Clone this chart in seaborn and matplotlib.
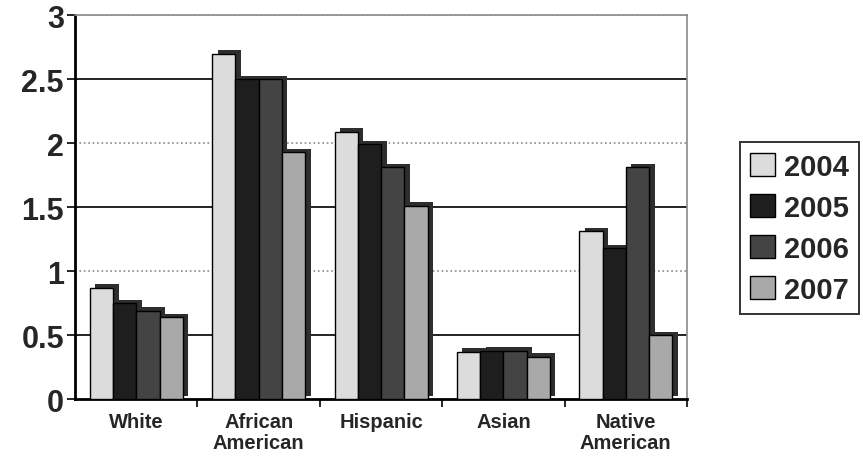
import matplotlib
matplotlib.use("Agg")
import matplotlib.pyplot as plt
import matplotlib.patheffects as pe
from matplotlib.ticker import FixedLocator
import pandas as pd
import seaborn as sns

# data
groups = ["White", "African\nAmerican", "Hispanic", "Asian", "Native\nAmerican"]
years = ["2004", "2005", "2006", "2007"]
v2004 = [0.87, 2.70, 2.09, 0.37, 1.31]
v2005 = [0.75, 2.50, 1.99, 0.38, 1.18]
v2006 = [0.69, 2.50, 1.81, 0.38, 1.81]
v2007 = [0.64, 1.93, 1.51, 0.33, 0.50]
y_ticks = [0, 0.5, 1, 1.5, 2, 2.5, 3]
y_tick_labels = ["0", "0.5", "1", "1.5", "2", "2.5", "3"]

bar_colors = ["#dcdcdc", "#1e1e1e", "#444444", "#a9a9a9"]

rows = []
for year, vals in zip(years, [v2004, v2005, v2006, v2007]):
    for g, v in zip(groups, vals):
        rows.append({"group": g, "year": year, "value": v})
df = pd.DataFrame(rows)

sns.set_style("white")
plt.rcParams["font.family"] = ["Liberation Sans", "DejaVu Sans"]

fig = plt.figure(figsize=(8.63, 4.60), dpi=100)
ax = fig.add_axes([0.087, 0.130, 0.709, 0.835])

sns.barplot(
    data=df,
    x="group",
    y="value",
    hue="year",
    order=groups,
    hue_order=years,
    palette=bar_colors,
    width=0.76,
    gap=0,
    edgecolor="black",
    linewidth=1.0,
    saturation=1,
    ax=ax,
)

# fake 3D depth with an offset shadow on every bar
for patch in ax.patches:
    patch.set_path_effects([
        pe.SimplePatchShadow(offset=(4, 2.5), shadow_rgbFace="#2e2e2e", alpha=1.0),
        pe.Normal(),
    ])
    patch.set_zorder(3)

ax.set_ylim(0, 3)
ax.set_xlim(-0.5, 4.5)
ax.set_yticks(y_ticks)
ax.set_yticklabels(y_tick_labels, fontsize=22, fontweight="bold")
ax.tick_params(axis="y", which="major", direction="out", length=6, width=1.2,
               color="black", left=True, pad=2)
ax.tick_params(axis="x", which="major", length=0, pad=9)
for lab in ax.get_xticklabels():
    lab.set_fontsize(14.5)
    lab.set_fontweight("bold")
    lab.set_linespacing(1.15)
ax.xaxis.set_minor_locator(FixedLocator([0.5, 1.5, 2.5, 3.5, 4.5]))
ax.tick_params(axis="x", which="minor", direction="out", length=6, width=1.2,
               color="black", bottom=True)

# gridlines: alternating dark solid / light dotted like the scan
for y in y_ticks[1:]:
    if y in (0.5, 1.5, 2.5):
        ax.axhline(y, color="#222222", linewidth=1.4, zorder=1)
    else:
        ax.axhline(y, color="#8a8a8a", linewidth=1.2, linestyle=":", zorder=1)

ax.set_xlabel("")
ax.set_ylabel("")

for side in ["top", "right"]:
    ax.spines[side].set_color("#8a8a8a")
    ax.spines[side].set_linewidth(1.2)
ax.spines["left"].set_color("black")
ax.spines["left"].set_linewidth(2.0)
ax.spines["bottom"].set_color("black")
ax.spines["bottom"].set_linewidth(2.0)

leg = ax.legend(
    loc="center left",
    bbox_to_anchor=(1.087, 0.445),
    frameon=True,
    fancybox=False,
    edgecolor="black",
    prop={"weight": "bold", "size": 21},
    handlelength=0.85,
    handleheight=0.85,
    handletextpad=0.3,
    labelspacing=0.45,
    borderpad=0.35,
    borderaxespad=0,
)
leg.get_frame().set_linewidth(1.4)
for h in leg.legend_handles:
    h.set_edgecolor("black")
    h.set_path_effects([])

fig.savefig("out.png", dpi=100)
